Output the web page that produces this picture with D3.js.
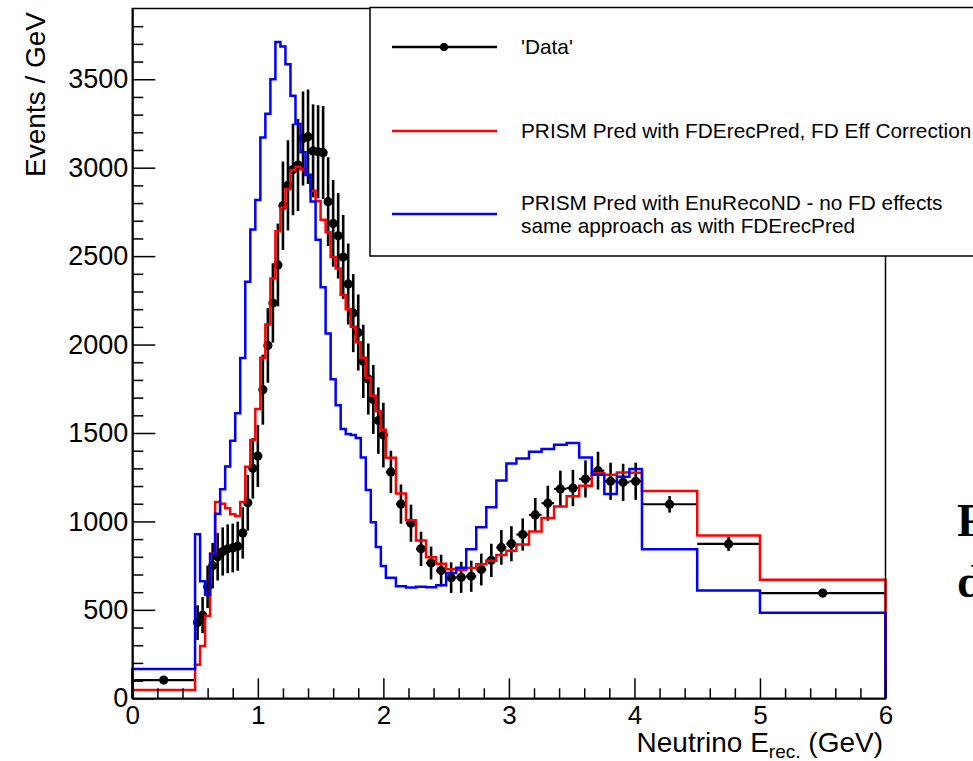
<!DOCTYPE html>
<html>
<head>
<meta charset="utf-8">
<script src="https://cdn.jsdelivr.net/npm/d3@7"></script>
<style>
  body { margin: 0; background: #fff; overflow: hidden; }
  svg { display: block; }
</style>
</head>
<body>
<div id="plot"></div>
<script>
// bin edges of the histograms (GeV)
var binEdges = [0, 0.5,
  0.54, 0.58, 0.62, 0.66, 0.70, 0.74, 0.78, 0.82, 0.86, 0.90,
  0.94, 0.98, 1.02, 1.06, 1.10, 1.14, 1.18, 1.22, 1.26, 1.30,
  1.34, 1.38, 1.42, 1.46, 1.50, 1.54, 1.58, 1.62, 1.66, 1.70,
  1.74, 1.78, 1.82, 1.86, 1.90, 1.94, 1.98, 2.02,
  2.10, 2.18, 2.26, 2.34, 2.42, 2.50, 2.58, 2.66, 2.74, 2.82, 2.90, 2.98, 3.06,
  3.16, 3.26, 3.36, 3.46, 3.56, 3.66, 3.76, 3.86, 3.96, 4.06,
  4.5, 5, 6];

// 'Data' points (events / GeV) and their errors
var dataValues = [103,
  428, 470, 630, 750, 800, 830, 845, 850, 860, 935,
  1105, 1300, 1370, 1745, 1995, 2235, 2450, 2785, 2900, 2990,
  3015, 3165, 3175, 3095, 3090, 3085, 2808, 2685, 2615, 2495,
  2342, 2178, 2068, 1905, 1805, 1690, 1570, 1488,
  1280, 1098, 990, 845, 765, 722, 682, 684, 690, 728, 780, 853, 874,
  926, 1037, 1103, 1184, 1189, 1240, 1287, 1227, 1221, 1227,
  1097, 873, 595];
var dataErrors = [14,
  98, 102, 120, 129, 134, 136, 138, 138, 139, 145,
  157, 171, 175, 198, 211, 224, 234, 250, 255, 259,
  260, 266, 267, 263, 263, 263, 251, 245, 242, 237,
  229, 221, 215, 207, 201, 195, 188, 183,
  120, 111, 105, 97, 93, 90, 87, 88, 88, 90, 94, 98, 99,
  91, 96, 99, 103, 103, 105, 107, 105, 105, 105,
  47, 40, 23];

// PRISM Pred with FDErecPred, FD Eff Correction (red)
var redValues = [47,
  190, 296, 467, 819, 1110, 1100, 1075, 1040, 1030, 1110,
  1309, 1460, 1636, 1925, 2114, 2373, 2641, 2775, 2880, 2985,
  3005, 2990, 2960, 2870, 2810, 2705, 2635, 2495, 2430, 2280,
  2200, 2100, 2013, 1925, 1812, 1711, 1623, 1518,
  1360, 1158, 1007, 892, 798, 761, 729, 725, 736, 758, 778, 810, 834,
  870, 943, 1020, 1084, 1142, 1202, 1272, 1264, 1277, 1275,
  1172, 920, 670];

// PRISM Pred with EnuRecoND - no FD effects (blue)
var blueValues = [165,
  928, 662, 585, 816, 1043, 1182, 1310, 1456, 1612, 1924,
  2355, 2650, 2818, 3170, 3305, 3500, 3711, 3685, 3585, 3407,
  3247, 3087, 2959, 2809, 2593, 2324, 2063, 1804, 1657, 1522,
  1494, 1488, 1471, 1362, 1178, 996, 855, 748,
  682, 633, 626, 630, 628, 639, 708, 738, 842, 967, 1080, 1231, 1328,
  1356, 1394, 1409, 1433, 1443, 1362, 1264, 1155, 1253, 1296,
  842, 610, 483];

// tick labels
var xTicks = [0, 1, 2, 3, 4, 5, 6];
var yTicks = [0, 500, 1000, 1500, 2000, 2500, 3000, 3500];

// legend texts
var legendLabels = ["'Data'", "PRISM Pred with FDErecPred, FD Eff Correction",
  "PRISM Pred with EnuRecoND - no FD effects", "same approach as with FDErecPred"];

// define svg width height and frame
var w = 973, h = 761;
var frame = {left: 132.3, right: 885.5, top: 8.5, bottom: 698.3};
var font = "'Liberation Sans', Arial, Helvetica, sans-serif";

var xScale = d3.scaleLinear().domain([0, 6]).range([frame.left, frame.right]);
var yScale = d3.scaleLinear().domain([0, 3900]).range([frame.bottom, frame.top]);

var svg = d3.select("#plot")
  .append("svg")
  .attr("width", w)
  .attr("height", h);

svg.append("rect").attr("width", w).attr("height", h).attr("fill", "#fff");

// text of the page behind the plot (cut off at the right, as in the screenshot)
svg.append("text")
  .attr("x", 957).attr("y", 536)
  .style("font", "bold 46px 'Liberation Serif', 'Times New Roman', serif")
  .text("F");
svg.append("text")
  .attr("x", 957).attr("y", 597)
  .style("font", "bold 46px 'Liberation Serif', 'Times New Roman', serif")
  .text("d");

// build histogram outline points from the bins
var stepPoints = function(values) {
  var pts = [[binEdges[0], 0]];
  values.forEach(function(v, i) {
    pts.push([binEdges[i], v]);
    pts.push([binEdges[i + 1], v]);
  });
  pts.push([binEdges[binEdges.length - 1], 0]);
  return pts;
};
var line = d3.line()
  .x(function(d) { return xScale(d[0]); })
  .y(function(d) { return yScale(d[1]); });

// data table for the error bars
var points = dataValues.map(function(v, i) {
  return {lo: binEdges[i], hi: binEdges[i + 1], v: v, e: dataErrors[i]};
});

// draw data horizontal bars
var dataG = svg.append("g").attr("stroke", "#000").attr("stroke-width", 2.2);
dataG.selectAll(".hbar")
  .data(points)
  .enter().append("line")
  .attr("x1", function(d) { return xScale(d.lo); })
  .attr("x2", function(d) { return xScale(d.hi); })
  .attr("y1", function(d) { return yScale(d.v); })
  .attr("y2", function(d) { return yScale(d.v); });

// draw data vertical error bars
dataG.selectAll(".vbar")
  .data(points)
  .enter().append("line")
  .attr("stroke-width", 2.6)
  .attr("x1", function(d) { return xScale((d.lo + d.hi) / 2); })
  .attr("x2", function(d) { return xScale((d.lo + d.hi) / 2); })
  .attr("y1", function(d) { return yScale(d.v - d.e); })
  .attr("y2", function(d) { return yScale(d.v + d.e); });

// draw data markers
dataG.selectAll("circle")
  .data(points)
  .enter().append("circle")
  .attr("cx", function(d) { return xScale((d.lo + d.hi) / 2); })
  .attr("cy", function(d) { return yScale(d.v); })
  .attr("r", 4.6)
  .attr("stroke", "none")
  .attr("fill", "#000");

// draw red and blue histograms
svg.append("path")
  .attr("d", line(stepPoints(redValues)))
  .attr("fill", "none")
  .attr("stroke", "#ff0000")
  .attr("stroke-width", 2.5);

svg.append("path")
  .attr("d", line(stepPoints(blueValues)))
  .attr("fill", "none")
  .attr("stroke", "#0000ff")
  .attr("stroke-width", 2.5);

// draw frame
svg.append("rect")
  .attr("x", frame.left)
  .attr("y", frame.top)
  .attr("width", frame.right - frame.left)
  .attr("height", frame.bottom - frame.top)
  .attr("fill", "none")
  .attr("stroke", "#000")
  .attr("stroke-width", 1.5);

// draw y axis (ticks inside)
svg.append("g")
  .attr("transform", "translate(" + frame.left + ",0)")
  .call(d3.axisLeft(yScale).tickValues(yTicks).tickFormat(d3.format("d"))
    .tickSize(-23).tickSizeOuter(0).tickPadding(4))
  .attr("font-size", 27)
  .attr("font-family", font);
svg.append("g")
  .attr("transform", "translate(" + frame.left + ",0)")
  .call(d3.axisLeft(yScale).tickValues(d3.range(100, 3900, 100).filter(function(v) { return v % 500; }))
    .tickSize(-11).tickSizeOuter(0).tickFormat(""));

// draw x axis (ticks inside)
svg.append("g")
  .attr("transform", "translate(0," + frame.bottom + ")")
  .call(d3.axisBottom(xScale).tickValues(xTicks).tickFormat(d3.format("d"))
    .tickSize(-20).tickSizeOuter(0).tickPadding(7))
  .attr("font-size", 26)
  .attr("font-family", font);
svg.append("g")
  .attr("transform", "translate(0," + frame.bottom + ")")
  .call(d3.axisBottom(xScale).tickValues(d3.range(0.2, 6, 0.2).filter(function(v) { return Math.abs(v - Math.round(v)) > 0.01; }))
    .tickSize(-10).tickSizeOuter(0).tickFormat(""));

svg.selectAll(".tick line").attr("stroke-width", 1.5);
svg.selectAll(".domain").attr("stroke-width", 1.5);
svg.selectAll(".tick text").attr("fill", "#000");

// draw axis titles
svg.append("text")
  .attr("transform", "translate(45,12) rotate(-90)")
  .attr("text-anchor", "end")
  .style("font", "28px " + font)
  .text("Events / GeV");

var xTitle = svg.append("text")
  .attr("x", 883)
  .attr("y", 752)
  .attr("text-anchor", "end")
  .style("font", "28px " + font);
xTitle.append("tspan").text("Neutrino E");
xTitle.append("tspan").attr("dy", 6).style("font-size", "19px").text("rec.");
xTitle.append("tspan").attr("dy", -6).text(" (GeV)");

// draw legend box
svg.append("rect")
  .attr("x", 370)
  .attr("y", 7.5)
  .attr("width", 640)
  .attr("height", 248.5)
  .attr("fill", "#fff")
  .attr("stroke", "#000")
  .attr("stroke-width", 1.5);

var legendRows = [
  {y: 47, color: "#000", marker: true, lines: [legendLabels[0]]},
  {y: 131, color: "#ff0000", marker: false, lines: [legendLabels[1]]},
  {y: 214, color: "#0000ff", marker: false, lines: [legendLabels[2], legendLabels[3]]}
];

var legend = svg.selectAll(".legend")
  .data(legendRows)
  .enter().append("g")
  .attr("class", "legend");

legend.append("line")
  .attr("x1", 392).attr("x2", 497)
  .attr("y1", function(d) { return d.y; })
  .attr("y2", function(d) { return d.y; })
  .attr("stroke", function(d) { return d.color; })
  .attr("stroke-width", 2.5);

legend.filter(function(d) { return d.marker; })
  .append("circle")
  .attr("cx", 444).attr("cy", function(d) { return d.y; })
  .attr("r", 4)
  .attr("fill", "#000");

legend.each(function(d) {
  var g = d3.select(this);
  var y0 = d.y - (d.lines.length - 1) * 11.5;
  d.lines.forEach(function(t, i) {
    g.append("text")
      .attr("x", 521)
      .attr("y", y0 + i * 23)
      .attr("dy", "0.36em")
      .style("font", "20.8px " + font)
      .text(t);
  });
});
</script>
</body>
</html>
